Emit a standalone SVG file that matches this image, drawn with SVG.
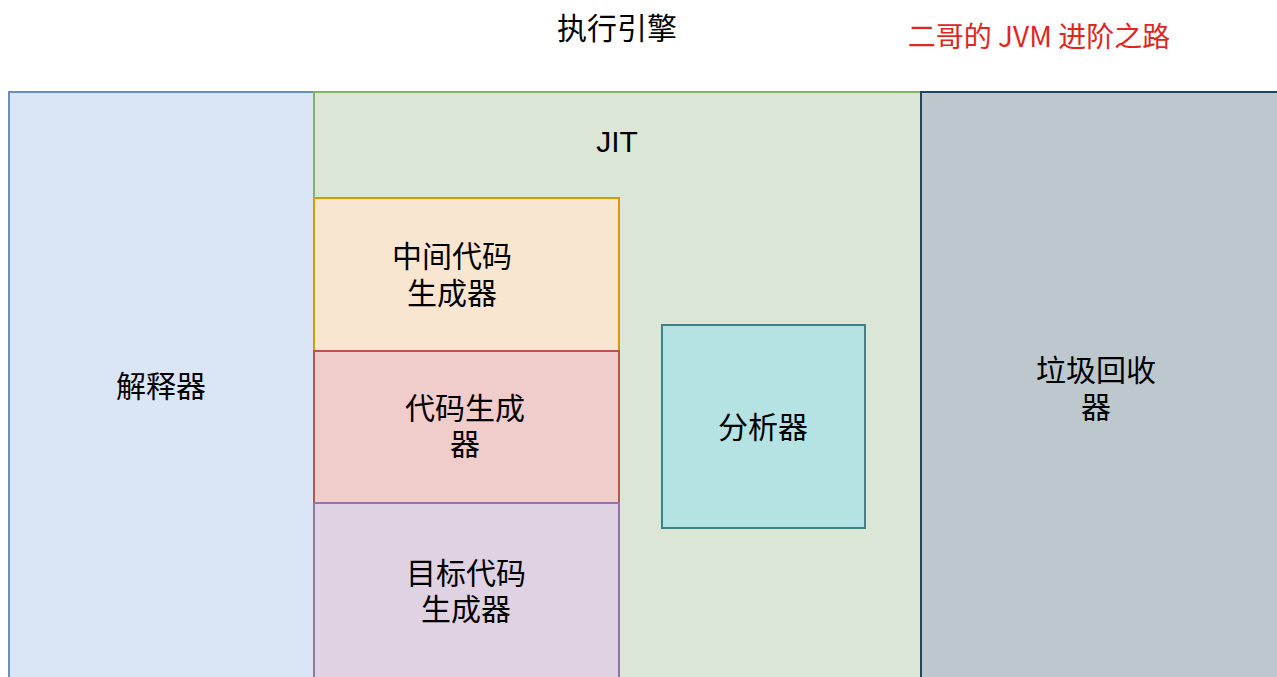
<svg xmlns="http://www.w3.org/2000/svg" width="1277" height="677" viewBox="0 0 1277 677">
<style>
text{font-family:"Noto Sans CJK SC","Liberation Sans",sans-serif;font-size:30px;fill:#000;text-anchor:middle;dominant-baseline:central}
.box{stroke-width:2}
</style>
<rect x="0" y="0" width="1277" height="677" fill="#ffffff"/>
<g id="title"><text x="617" y="26">执行引擎</text></g>
<g id="watermark"><text x="1039" y="35" style="fill:#e0271d;font-size:28px">二哥的 JVM 进阶之路</text></g>
<g id="interpreter">
<rect class="box" x="9" y="92" width="305" height="600" fill="#dae5f6" stroke="#6c8ebf"/>
<text x="161" y="384">解释器</text>
</g>
<g id="jit">
<rect class="box" x="314" y="92" width="607" height="600" fill="#dbe6d6" stroke="#82b366"/>
<text x="617" y="141" style="font-family:'Liberation Sans','Noto Sans',sans-serif">JIT</text>
</g>
<g id="gc">
<rect class="box" x="921" y="92" width="370" height="600" fill="#bdc7ce" stroke="#23445d"/>
<text x="1096" y="368">垃圾回收<tspan x="1096" dy="37">器</tspan></text>
</g>
<g id="ir-gen">
<rect class="box" x="314" y="198" width="305" height="153" fill="#f9e6d1" stroke="#d79b00"/>
<text x="452" y="254">中间代码<tspan x="452" dy="37">生成器</tspan></text>
</g>
<g id="code-gen">
<rect class="box" x="314" y="351" width="305" height="152" fill="#f0cccb" stroke="#b85450"/>
<text x="465" y="406">代码生成<tspan x="465" dy="36">器</tspan></text>
</g>
<g id="target-gen">
<rect class="box" x="314" y="503" width="305" height="190" fill="#dfd2e3" stroke="#9673a6"/>
<text x="466" y="571">目标代码<tspan x="466" dy="36">生成器</tspan></text>
</g>
<g id="analyzer">
<rect class="box" x="662" y="325" width="203" height="203" fill="#b5e2e3" stroke="#3f8286"/>
<text x="763" y="425">分析器</text>
</g>
<g id="connectors"></g>
</svg>
